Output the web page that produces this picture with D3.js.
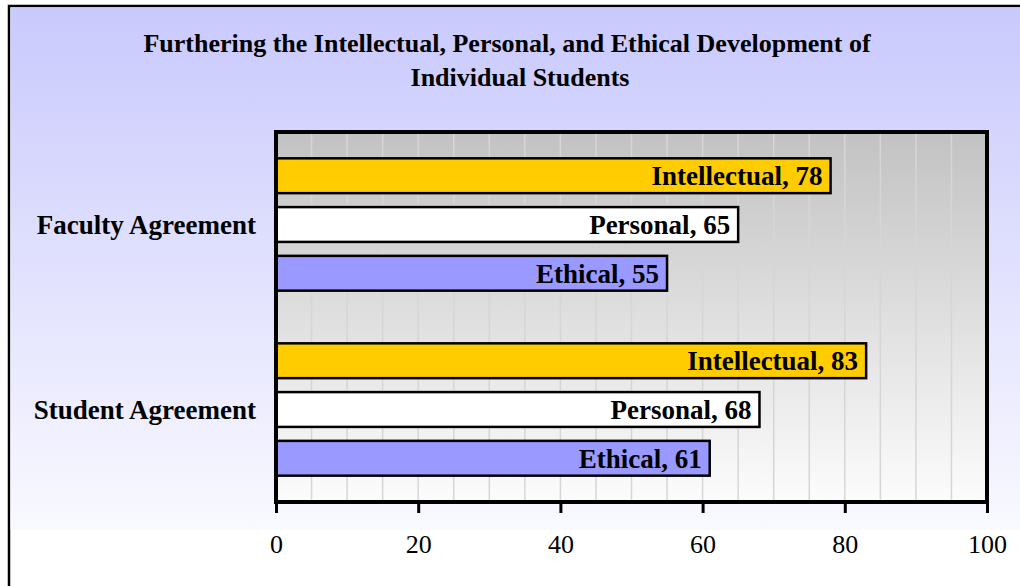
<!DOCTYPE html>
<html>
<head>
<meta charset="utf-8">
<script src="https://cdn.jsdelivr.net/npm/d3@7"></script>
<style>
  body { margin: 0; background: #fff; }
  svg text { font-family: "Liberation Serif", "Times New Roman", serif; fill: #000; }
  .bar-label, .cat-label, .title { font-weight: bold; }
  .x-axis text { font-size: 26px; }
</style>
</head>
<body>
<div id="chart"></div>
<script>
		// data
		var categories = ["Faculty Agreement", "Student Agreement"];
		var series = ["Intellectual", "Personal", "Ethical"];
		var seriesColors = ["#ffcc00", "#ffffff", "#9999ff"];
		var facultyValues = [78, 65, 55];
		var studentValues = [83, 68, 61];
		var xTicks = [0, 20, 40, 60, 80, 100];
		var titleLines = ["Furthering the Intellectual, Personal, and Ethical Development of", "Individual Students"];

		var values = [facultyValues, studentValues];

		var width = 1020,
			height = 586;

		// plot area
		var plot = {left: 276, right: 987, top: 132, bottom: 502};

		var svg = d3.select('#chart')
			.append('svg')
			  .attr('width', width)
			  .attr('height', height);

		var defs = svg.append('defs');

		var bgGrad = defs.append('linearGradient')
			.attr('id', 'bg-grad')
			.attr('x1', 0).attr('y1', 0).attr('x2', 0).attr('y2', 1);
		bgGrad.append('stop').attr('offset', '0%').attr('stop-color', '#c9c9fd');
		bgGrad.append('stop').attr('offset', '100%').attr('stop-color', '#f9f9ff');

		var plotGrad = defs.append('linearGradient')
			.attr('id', 'plot-grad')
			.attr('x1', 0).attr('y1', 0).attr('x2', 0).attr('y2', 1);
		plotGrad.append('stop').attr('offset', '0%').attr('stop-color', '#c2c2c2');
		plotGrad.append('stop').attr('offset', '100%').attr('stop-color', '#fcfcfc');

		// outer frame + chart background
		svg.append('rect')
			.attr('x', 9).attr('y', 6)
			.attr('width', 1100).attr('height', 700)
			.style('fill', '#fff')
			.style('stroke', '#000')
			.style('stroke-width', 2.5);

		svg.append('rect')
			.attr('x', 10.5).attr('y', 7.5)
			.attr('width', 1020).attr('height', 522)
			.style('fill', 'url(#bg-grad)');

		// title (two lines, centred a little differently as in the original)
		var titleX = [507, 520];
		svg.selectAll('.title')
			.data(titleLines)
			.enter()
			.append('text')
			.attr('class', 'title')
			.attr('x', function(d, i) { return titleX[i]; })
			.attr('y', function(d, i) { return 52 + i * 34; })
			.attr('text-anchor', 'middle')
			.style('font-size', '26px')
			.text(function(d) { return d; });

		// scales
		var x = d3.scaleLinear()
					.domain([0, 100])
					.range([plot.left, plot.right]);

		var y0 = d3.scaleBand()
					.domain(categories)
					.range([plot.top, plot.bottom]);

		var y1 = d3.scaleBand()
					.domain(series)
					.range([0, y0.bandwidth()])
					.paddingInner(0.286)
					.paddingOuter(0.54);

		// plot background
		svg.append('rect')
			.attr('x', plot.left).attr('y', plot.top)
			.attr('width', plot.right - plot.left)
			.attr('height', plot.bottom - plot.top)
			.style('fill', 'url(#plot-grad)');

		// gridlines every 5
		svg.selectAll('.grid')
			.data(d3.range(5, 100, 5))
			.enter()
			.append('line')
			.attr('class', 'grid')
			.attr('x1', function(d) { return x(d); })
			.attr('x2', function(d) { return x(d); })
			.attr('y1', plot.top)
			.attr('y2', plot.bottom)
			.style('stroke', '#d6d6d6')
			.style('stroke-width', 1.5);

		// bars
		var groups = svg.selectAll('.group')
			.data(categories)
			.enter()
			.append('g')
			.attr('class', 'group')
			.attr('transform', function(d) { return 'translate(0,' + y0(d) + ')'; });

		var barData = function(c, ci) {
			return series.map(function(s, si) {
				return {series: s, value: values[ci][si], color: seriesColors[si]};
			});
		};

		groups.selectAll('.bar')
			.data(barData)
			.enter()
			.append('rect')
			.attr('class', 'bar')
			.attr('x', x(0))
			.attr('y', function(d) { return y1(d.series); })
			.attr('width', function(d) { return x(d.value) - x(0); })
			.attr('height', y1.bandwidth())
			.style('fill', function(d) { return d.color; })
			.style('stroke', '#000')
			.style('stroke-width', 2.5);

		groups.selectAll('.bar-label')
			.data(barData)
			.enter()
			.append('text')
			.attr('class', 'bar-label')
			.attr('x', function(d) { return x(d.value) - 8; })
			.attr('y', function(d) { return y1(d.series) + y1.bandwidth() / 2; })
			.attr('dy', '0.35em')
			.attr('text-anchor', 'end')
			.style('font-size', '27px')
			.text(function(d) { return d.series + ', ' + d.value; });

		// category labels
		svg.selectAll('.cat-label')
			.data(categories)
			.enter()
			.append('text')
			.attr('class', 'cat-label')
			.attr('x', 256)
			.attr('y', function(d) { return y0(d) + y0.bandwidth() / 2; })
			.attr('dy', '0.35em')
			.attr('text-anchor', 'end')
			.style('font-size', '27px')
			.text(function(d) { return d; });

		// plot border
		svg.append('rect')
			.attr('x', plot.left).attr('y', plot.top)
			.attr('width', plot.right - plot.left)
			.attr('height', plot.bottom - plot.top)
			.style('fill', 'none')
			.style('stroke', '#000')
			.style('stroke-width', 4);

		// x axis
		var xAxis = svg.append('g')
			.attr('class', 'x-axis')
			.attr('transform', 'translate(0,' + plot.bottom + ')')
			.call(d3.axisBottom(x)
					.tickValues(xTicks)
					.tickSize(11)
					.tickPadding(22)
					.tickFormat(d3.format('d')));

		xAxis.select('.domain').remove();
		xAxis.selectAll('.tick line')
			.style('stroke', '#000')
			.style('stroke-width', 3);
		xAxis.selectAll('.tick text')
			.style('font-family', '"Liberation Serif", "Times New Roman", serif');
</script>
</body>
</html>
